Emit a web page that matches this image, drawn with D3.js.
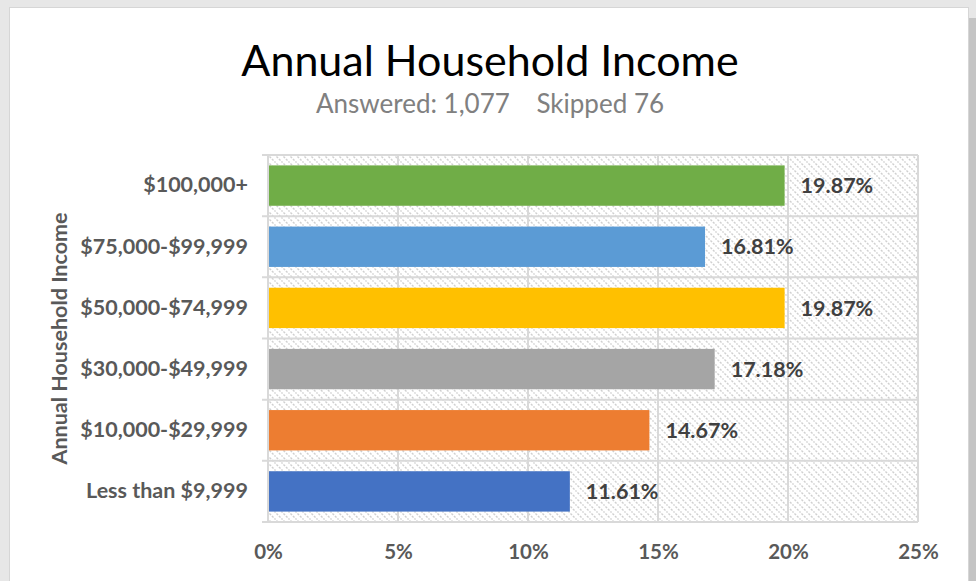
<!DOCTYPE html>
<html>
<head>
<meta charset="utf-8">
<script src="https://cdn.jsdelivr.net/npm/d3@7"></script>
<style>
  html, body { margin: 0; padding: 0; background: #ffffff; }
  svg { display: block; }
</style>
</head>
<body>
<svg id="chart" width="976" height="581"></svg>
<script>
// Survey results: share of respondents by annual household income
const categories = ["$100,000+", "$75,000-$99,999", "$50,000-$74,999", "$30,000-$49,999", "$10,000-$29,999", "Less than $9,999"];
const values = [19.87, 16.81, 19.87, 17.18, 14.67, 11.61];
const barColors = ["#70ad47", "#5b9bd5", "#ffc000", "#a5a5a5", "#ed7d31", "#4472c4"];
const xTicks = [0, 5, 10, 15, 20, 25];
const titleText = "Annual Household Income";
const subtitleText = "Answered: 1,077    Skipped 76";
const yAxisTitle = "Annual Household Income";

const svg = d3.select("#chart");
const W = 976, H = 581;
const font = "Lato, 'Open Sans', sans-serif";

// card frame
svg.append("rect").attr("x", 0).attr("y", 0).attr("width", W).attr("height", H).attr("fill", "#e7e7e7");
svg.append("rect").attr("x", 968).attr("y", 18).attr("width", 8).attr("height", H - 18).attr("fill", "#c4c4c4");
svg.append("rect").attr("x", 9).attr("y", 7).attr("width", 960).attr("height", H).attr("fill", "#d6d6d6");
svg.append("rect").attr("x", 10).attr("y", 8).attr("width", 958).attr("height", H).attr("fill", "#ffffff");

const margin = { left: 268, right: 58, top: 155, bottom: 59 };
const plotW = W - margin.left - margin.right;
const plotH = H - margin.top - margin.bottom;

const x = d3.scaleLinear().domain([0, 25]).range([0, plotW]);
const y = d3.scaleBand().domain(categories).range([0, plotH]).paddingInner(0.34).paddingOuter(0.17);

// hatched plot background
const defs = svg.append("defs");
const pat = defs.append("pattern")
  .attr("id", "hatch").attr("patternUnits", "userSpaceOnUse")
  .attr("width", 7).attr("height", 7);
pat.append("rect").attr("width", 7).attr("height", 7).attr("fill", "#ffffff");
pat.append("path").attr("d", "M-1,-1 L8,8 M-1,6 L1,8 M6,-1 L8,1")
  .attr("stroke", "#d0d0d0").attr("stroke-width", 1.4).attr("stroke-dasharray", "2.2,1.3");

const g = svg.append("g").attr("transform", `translate(${margin.left},${margin.top})`);
g.append("rect").attr("width", plotW).attr("height", plotH).attr("fill", "url(#hatch)");

// vertical gridlines
g.append("g").selectAll("line").data(xTicks).join("line")
  .attr("x1", d => x(d)).attr("x2", d => x(d))
  .attr("y1", 0).attr("y2", plotH)
  .attr("stroke", "#d9d9d9").attr("stroke-width", 2);

// horizontal category dividers (with small ticks left of the axis)
const step = y.step();
const dividers = d3.range(categories.length + 1).map(i => y(categories[0]) - y.paddingOuter() * step + i * step);
g.append("g").selectAll("line").data(dividers).join("line")
  .attr("x1", -6).attr("x2", plotW)
  .attr("y1", d => d).attr("y2", d => d)
  .attr("stroke", "#d9d9d9").attr("stroke-width", 2);

// bars
g.append("g").selectAll("rect").data(categories).join("rect")
  .attr("x", 0).attr("y", d => y(d))
  .attr("width", (d, i) => x(values[i]))
  .attr("height", y.bandwidth())
  .attr("fill", (d, i) => barColors[i]);

// value labels
g.append("g").selectAll("text").data(categories).join("text")
  .attr("x", (d, i) => x(values[i]) + 16)
  .attr("y", d => y(d) + y.bandwidth() / 2)
  .attr("dy", "0.36em")
  .attr("font-family", font).attr("font-weight", "bold").attr("font-size", 21.5)
  .attr("fill", "#404040")
  .text((d, i) => values[i].toFixed(2) + "%");

// x axis labels
const xAxis = d3.axisBottom(x).tickValues(xTicks).tickFormat(d => d + "%").tickSize(0).tickPadding(22);
const xg = g.append("g").attr("transform", `translate(0,${plotH})`).call(xAxis);
xg.select(".domain").remove();
xg.selectAll("text").attr("font-family", font).attr("font-weight", "bold")
  .attr("font-size", 20.5).attr("fill", "#595959");

// y axis labels
const yAxis = d3.axisLeft(y).tickSize(0).tickPadding(20);
const yg = g.append("g").call(yAxis);
yg.select(".domain").remove();
yg.selectAll("text").attr("font-family", font).attr("font-weight", "bold")
  .attr("font-size", 21.5).attr("fill", "#595959");

// left axis line
g.append("line").attr("x1", 0).attr("x2", 0).attr("y1", 0).attr("y2", plotH)
  .attr("stroke", "#d9d9d9").attr("stroke-width", 2);

// axis title
svg.append("text")
  .attr("transform", `translate(67,${margin.top + plotH / 2}) rotate(-90)`)
  .attr("text-anchor", "middle")
  .attr("font-family", font).attr("font-weight", "bold").attr("font-size", 21.5)
  .attr("fill", "#595959")
  .text(yAxisTitle);

// title and subtitle
svg.append("text").attr("x", 490).attr("y", 76).attr("text-anchor", "middle")
  .attr("font-family", font).attr("font-size", 43).attr("fill", "#000000")
  .text(titleText);
svg.append("text").attr("x", 490).attr("y", 113).attr("text-anchor", "middle")
  .attr("font-family", font).attr("font-size", 26).attr("fill", "#808080")
  .attr("xml:space", "preserve").style("white-space", "pre")
  .text(subtitleText);
</script>
</body>
</html>
